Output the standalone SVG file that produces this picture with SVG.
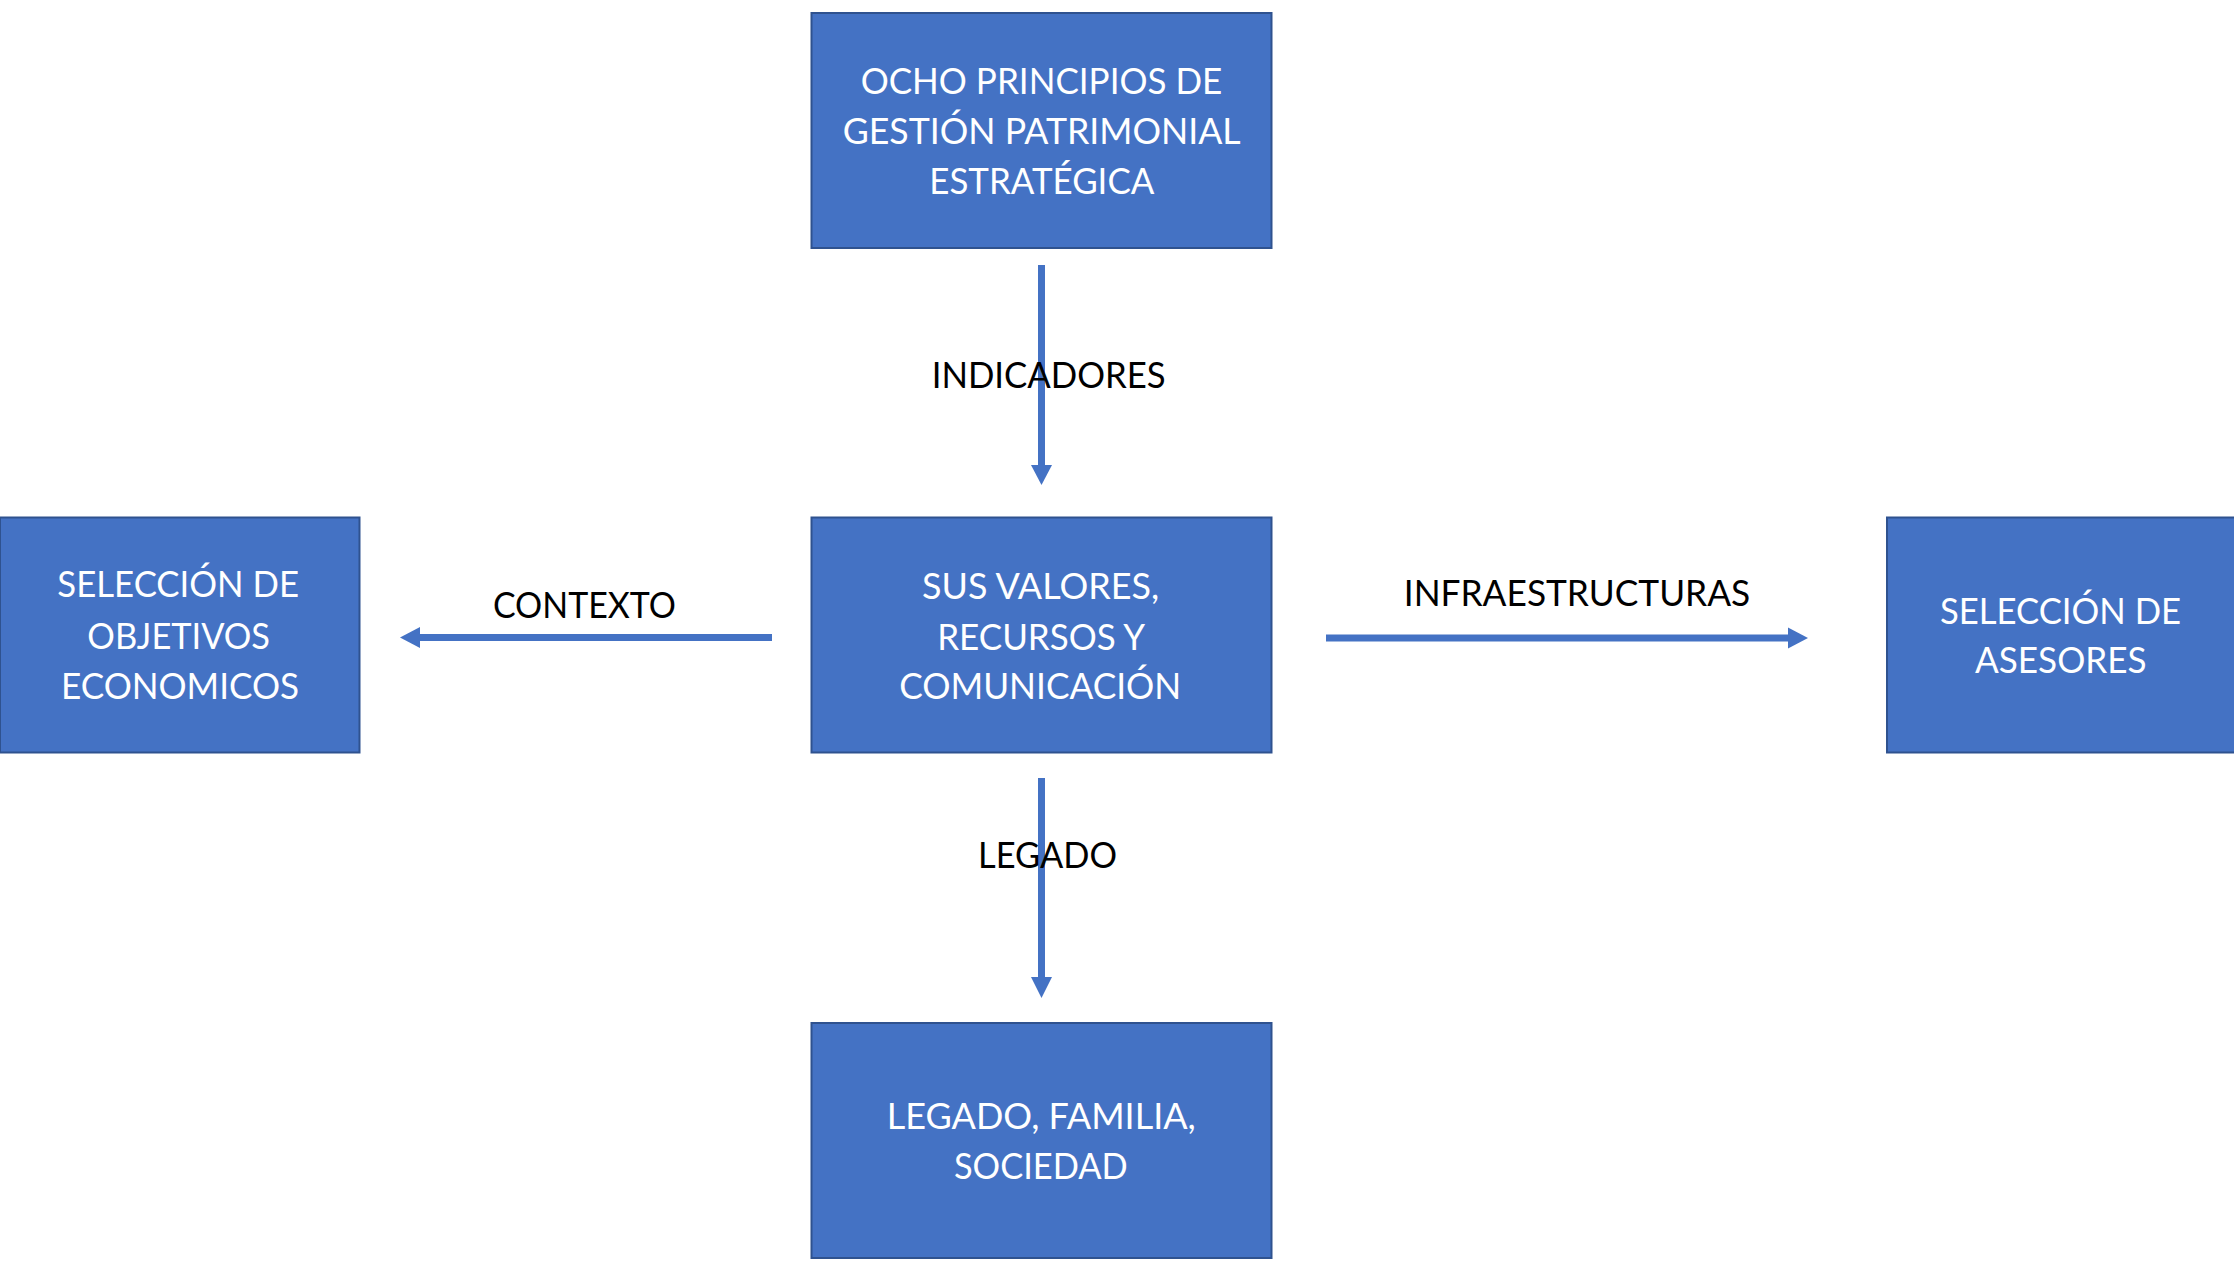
<svg xmlns="http://www.w3.org/2000/svg" width="2234" height="1262" viewBox="0 0 2234 1262">
  <style>
    .box { fill: #4472C4; stroke: #2F528F; stroke-width: 2; }
    .bt { font-family: Lato, "Liberation Sans", sans-serif; font-size: 36px; fill: #FFFFFF; text-anchor: middle; }
    .lt { font-family: Lato, "Liberation Sans", sans-serif; font-size: 36px; fill: #000000; text-anchor: middle; }
    .conn { stroke: #4472C4; stroke-width: 7; fill: none; }
    .head { fill: #4472C4; }
  </style>
  <rect width="2234" height="1262" fill="#FFFFFF"/>
  <g id="connectors">
    <g id="c-indicadores">
      <line class="conn" x1="1041.5" y1="265" x2="1041.5" y2="466"/>
      <polygon class="head" points="1031,465 1052,465 1041.5,485"/>
    </g>
    <g id="c-contexto">
      <line class="conn" x1="772" y1="637.5" x2="419" y2="637.5"/>
      <polygon class="head" points="420,627 420,648 400,637.5"/>
    </g>
    <g id="c-infraestructuras">
      <line class="conn" x1="1326" y1="638" x2="1789" y2="638"/>
      <polygon class="head" points="1788,627.5 1788,648.5 1808,638"/>
    </g>
    <g id="c-legado">
      <line class="conn" x1="1041.5" y1="778" x2="1041.5" y2="978"/>
      <polygon class="head" points="1031,977 1052,977 1041.5,998"/>
    </g>
    <text class="lt" x="1048.7" y="388" textLength="234" lengthAdjust="spacingAndGlyphs">INDICADORES</text>
    <text class="lt" x="584.4" y="617.7" textLength="183" lengthAdjust="spacingAndGlyphs">CONTEXTO</text>
    <text class="lt" x="1577" y="605.5" textLength="346.5" lengthAdjust="spacingAndGlyphs">INFRAESTRUCTURAS</text>
    <text class="lt" x="1047.5" y="868" textLength="139" lengthAdjust="spacingAndGlyphs">LEGADO</text>
  </g>
  <g id="node-principios">
    <rect class="box" x="811.5" y="13" width="460" height="235"/>
    <text class="bt" x="1041.5" y="94" textLength="361.7" lengthAdjust="spacingAndGlyphs">OCHO PRINCIPIOS DE</text>
    <text class="bt" x="1041.7" y="143.5" textLength="398" lengthAdjust="spacingAndGlyphs">GESTIÓN PATRIMONIAL</text>
    <text class="bt" x="1041.8" y="194.3" textLength="225" lengthAdjust="spacingAndGlyphs">ESTRATÉGICA</text>
  </g>
  <g id="node-valores">
    <rect class="box" x="811.5" y="517.5" width="460" height="235"/>
    <text class="bt" x="1040.6" y="599.3" textLength="237" lengthAdjust="spacingAndGlyphs">SUS VALORES,</text>
    <text class="bt" x="1041.2" y="650" textLength="208" lengthAdjust="spacingAndGlyphs">RECURSOS Y</text>
    <text class="bt" x="1040.2" y="699.3" textLength="282" lengthAdjust="spacingAndGlyphs">COMUNICACIÓN</text>
  </g>
  <g id="node-objetivos">
    <rect class="box" x="0" y="517.5" width="359.5" height="235"/>
    <text class="bt" x="178.2" y="596.7" textLength="241.7" lengthAdjust="spacingAndGlyphs">SELECCIÓN DE</text>
    <text class="bt" x="178.7" y="649.3" textLength="182.7" lengthAdjust="spacingAndGlyphs">OBJETIVOS</text>
    <text class="bt" x="180" y="699" textLength="238" lengthAdjust="spacingAndGlyphs">ECONOMICOS</text>
  </g>
  <g id="node-asesores">
    <rect class="box" x="1887" y="517.5" width="350" height="235"/>
    <text class="bt" x="2060.5" y="624.3" textLength="241" lengthAdjust="spacingAndGlyphs">SELECCIÓN DE</text>
    <text class="bt" x="2060.8" y="672.7" textLength="171.7" lengthAdjust="spacingAndGlyphs">ASESORES</text>
  </g>
  <g id="node-legado">
    <rect class="box" x="811.5" y="1023" width="460" height="235"/>
    <text class="bt" x="1041.3" y="1129.3" textLength="309" lengthAdjust="spacingAndGlyphs">LEGADO, FAMILIA,</text>
    <text class="bt" x="1040.8" y="1179.3" textLength="173.7" lengthAdjust="spacingAndGlyphs">SOCIEDAD</text>
  </g>
</svg>
